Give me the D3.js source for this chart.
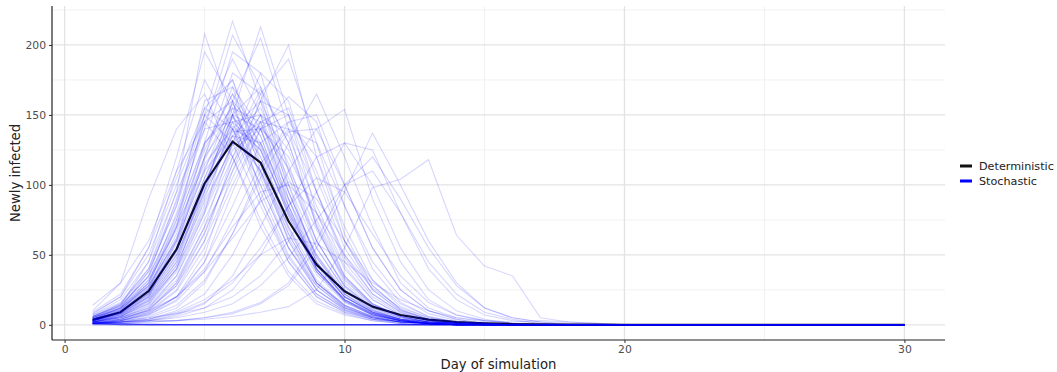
<!DOCTYPE html>
<html>
<head>
<meta charset="utf-8">
<script src="https://cdn.jsdelivr.net/npm/d3@7"></script>
<style>
  body { margin: 0; background: #fff; }
  text { font-family: "DejaVu Sans", sans-serif; }
  .tick text { fill: #4d4d4d; font-size: 10.8px; }
  .axis-title { fill: #222; font-size: 13.2px; }
  .legend-label { fill: #222; font-size: 11.2px; }
</style>
</head>
<body>
<div id="wrapper"></div>
<script>
// day of simulation
const days = d3.range(1, 31)

// deterministic model, newly infected per day
const deterministic = [3.5, 9, 24, 54, 101, 131, 116, 74, 43, 24, 13, 7, 3.7, 2, 1.1, 0.6, 0.3, 0.15, 0.08, 0.04, 0.02, 0.01, 0, 0, 0, 0, 0, 0, 0, 0]

// stochastic runs, newly infected per day
const stochastic = [
  [6, 15, 40, 95, 208, 150, 90, 45, 20, 9, 4, 2, 1, 0, 0, 0, 0, 0, 0, 0, 0, 0, 0, 0, 0, 0, 0, 0, 0, 0],
  [8, 20, 55, 120, 195, 160, 95, 50, 22, 10, 5, 2, 1, 0, 0, 0, 0, 0, 0, 0, 0, 0, 0, 0, 0, 0, 0, 0, 0, 0],
  [5, 14, 45, 110, 175, 140, 100, 55, 28, 12, 6, 3, 1, 0, 0, 0, 0, 0, 0, 0, 0, 0, 0, 0, 0, 0, 0, 0, 0, 0],
  [10, 30, 90, 140, 165, 120, 70, 35, 15, 7, 3, 1, 0, 0, 0, 0, 0, 0, 0, 0, 0, 0, 0, 0, 0, 0, 0, 0, 0, 0],
  [4, 12, 38, 85, 160, 170, 110, 60, 25, 12, 5, 2, 1, 0, 0, 0, 0, 0, 0, 0, 0, 0, 0, 0, 0, 0, 0, 0, 0, 0],
  [3, 9, 25, 70, 150, 217, 160, 90, 40, 18, 8, 3, 1, 0, 0, 0, 0, 0, 0, 0, 0, 0, 0, 0, 0, 0, 0, 0, 0, 0],
  [4, 10, 30, 80, 140, 207, 170, 100, 45, 20, 9, 4, 2, 1, 0, 0, 0, 0, 0, 0, 0, 0, 0, 0, 0, 0, 0, 0, 0, 0],
  [2, 7, 20, 60, 130, 195, 180, 110, 55, 25, 10, 4, 2, 1, 0, 0, 0, 0, 0, 0, 0, 0, 0, 0, 0, 0, 0, 0, 0, 0],
  [5, 12, 28, 75, 145, 190, 150, 85, 40, 17, 7, 3, 1, 0, 0, 0, 0, 0, 0, 0, 0, 0, 0, 0, 0, 0, 0, 0, 0, 0],
  [3, 8, 22, 55, 120, 180, 165, 95, 48, 22, 9, 4, 1, 0, 0, 0, 0, 0, 0, 0, 0, 0, 0, 0, 0, 0, 0, 0, 0, 0],
  [6, 13, 35, 90, 155, 175, 125, 70, 30, 14, 6, 2, 1, 0, 0, 0, 0, 0, 0, 0, 0, 0, 0, 0, 0, 0, 0, 0, 0, 0],
  [2, 5, 12, 35, 80, 150, 213, 150, 80, 35, 15, 6, 2, 1, 0, 0, 0, 0, 0, 0, 0, 0, 0, 0, 0, 0, 0, 0, 0, 0],
  [3, 6, 15, 40, 95, 160, 205, 140, 70, 30, 13, 5, 2, 1, 0, 0, 0, 0, 0, 0, 0, 0, 0, 0, 0, 0, 0, 0, 0, 0],
  [1, 4, 10, 30, 70, 130, 180, 160, 95, 45, 20, 8, 3, 1, 0, 0, 0, 0, 0, 0, 0, 0, 0, 0, 0, 0, 0, 0, 0, 0],
  [2, 6, 18, 45, 100, 150, 170, 130, 70, 32, 14, 6, 2, 1, 0, 0, 0, 0, 0, 0, 0, 0, 0, 0, 0, 0, 0, 0, 0, 0],
  [1, 3, 8, 20, 50, 110, 160, 200, 120, 60, 25, 10, 4, 1, 0, 0, 0, 0, 0, 0, 0, 0, 0, 0, 0, 0, 0, 0, 0, 0],
  [2, 4, 10, 25, 60, 120, 165, 190, 130, 65, 28, 11, 4, 2, 1, 0, 0, 0, 0, 0, 0, 0, 0, 0, 0, 0, 0, 0, 0, 0],
  [1, 3, 7, 18, 45, 95, 140, 163, 145, 85, 40, 16, 6, 2, 1, 0, 0, 0, 0, 0, 0, 0, 0, 0, 0, 0, 0, 0, 0, 0],
  [1, 2, 5, 12, 30, 65, 110, 145, 150, 100, 55, 25, 10, 4, 1, 0, 0, 0, 0, 0, 0, 0, 0, 0, 0, 0, 0, 0, 0, 0],
  [0, 2, 4, 10, 22, 50, 90, 130, 165, 120, 70, 30, 12, 5, 2, 0, 0, 0, 0, 0, 0, 0, 0, 0, 0, 0, 0, 0, 0, 0],
  [1, 2, 3, 7, 15, 35, 70, 110, 140, 154, 90, 45, 18, 7, 3, 1, 0, 0, 0, 0, 0, 0, 0, 0, 0, 0, 0, 0, 0, 0],
  [1, 1, 3, 6, 12, 25, 50, 85, 120, 130, 100, 55, 25, 10, 4, 1, 0, 0, 0, 0, 0, 0, 0, 0, 0, 0, 0, 0, 0, 0],
  [1, 1, 2, 3, 5, 8, 15, 28, 55, 95, 137, 100, 60, 30, 12, 5, 2, 1, 0, 0, 0, 0, 0, 0, 0, 0, 0, 0, 0, 0],
  [2, 2, 3, 3, 4, 6, 9, 13, 25, 55, 98, 104, 118, 64, 42, 35, 5, 2, 1, 0, 0, 0, 0, 0, 0, 0, 0, 0, 0, 0],
  [1, 2, 2, 3, 5, 9, 16, 30, 60, 100, 120, 90, 55, 28, 12, 5, 2, 0, 0, 0, 0, 0, 0, 0, 0, 0, 0, 0, 0, 0],
  [4, 11, 28, 65, 120, 150, 120, 75, 38, 18, 8, 3, 1, 0, 0, 0, 0, 0, 0, 0, 0, 0, 0, 0, 0, 0, 0, 0, 0, 0],
  [3, 9, 22, 50, 95, 135, 130, 90, 50, 24, 10, 4, 2, 1, 0, 0, 0, 0, 0, 0, 0, 0, 0, 0, 0, 0, 0, 0, 0, 0],
  [5, 12, 30, 70, 115, 140, 110, 65, 30, 14, 6, 2, 1, 0, 0, 0, 0, 0, 0, 0, 0, 0, 0, 0, 0, 0, 0, 0, 0, 0],
  [2, 6, 16, 40, 85, 130, 145, 105, 60, 28, 12, 5, 2, 1, 0, 0, 0, 0, 0, 0, 0, 0, 0, 0, 0, 0, 0, 0, 0, 0],
  [6, 14, 35, 75, 130, 155, 115, 65, 30, 13, 5, 2, 1, 0, 0, 0, 0, 0, 0, 0, 0, 0, 0, 0, 0, 0, 0, 0, 0, 0],
  [3, 8, 20, 48, 100, 145, 150, 100, 55, 25, 11, 4, 2, 0, 0, 0, 0, 0, 0, 0, 0, 0, 0, 0, 0, 0, 0, 0, 0, 0],
  [2, 5, 14, 35, 75, 120, 150, 125, 75, 35, 15, 6, 2, 1, 0, 0, 0, 0, 0, 0, 0, 0, 0, 0, 0, 0, 0, 0, 0, 0],
  [7, 18, 45, 95, 140, 145, 100, 55, 25, 11, 5, 2, 1, 0, 0, 0, 0, 0, 0, 0, 0, 0, 0, 0, 0, 0, 0, 0, 0, 0],
  [4, 10, 25, 60, 110, 160, 135, 80, 40, 18, 7, 3, 1, 0, 0, 0, 0, 0, 0, 0, 0, 0, 0, 0, 0, 0, 0, 0, 0, 0],
  [3, 7, 18, 42, 90, 140, 160, 115, 60, 27, 11, 4, 2, 1, 0, 0, 0, 0, 0, 0, 0, 0, 0, 0, 0, 0, 0, 0, 0, 0],
  [5, 13, 32, 72, 125, 165, 120, 68, 32, 14, 6, 2, 1, 0, 0, 0, 0, 0, 0, 0, 0, 0, 0, 0, 0, 0, 0, 0, 0, 0],
  [2, 6, 15, 38, 80, 125, 140, 120, 80, 40, 18, 7, 3, 1, 0, 0, 0, 0, 0, 0, 0, 0, 0, 0, 0, 0, 0, 0, 0, 0],
  [1, 4, 11, 28, 65, 115, 150, 135, 85, 42, 18, 7, 3, 1, 0, 0, 0, 0, 0, 0, 0, 0, 0, 0, 0, 0, 0, 0, 0, 0],
  [8, 20, 50, 100, 150, 130, 85, 45, 20, 9, 4, 1, 0, 0, 0, 0, 0, 0, 0, 0, 0, 0, 0, 0, 0, 0, 0, 0, 0, 0],
  [3, 9, 24, 58, 105, 145, 125, 80, 42, 20, 8, 3, 1, 0, 0, 0, 0, 0, 0, 0, 0, 0, 0, 0, 0, 0, 0, 0, 0, 0],
  [4, 10, 26, 55, 100, 150, 140, 90, 45, 20, 9, 3, 1, 0, 0, 0, 0, 0, 0, 0, 0, 0, 0, 0, 0, 0, 0, 0, 0, 0],
  [2, 5, 13, 32, 70, 110, 145, 140, 95, 50, 22, 9, 3, 1, 0, 0, 0, 0, 0, 0, 0, 0, 0, 0, 0, 0, 0, 0, 0, 0],
  [6, 15, 38, 85, 145, 160, 105, 55, 25, 11, 4, 2, 1, 0, 0, 0, 0, 0, 0, 0, 0, 0, 0, 0, 0, 0, 0, 0, 0, 0],
  [3, 8, 21, 50, 98, 138, 140, 95, 50, 22, 10, 4, 1, 0, 0, 0, 0, 0, 0, 0, 0, 0, 0, 0, 0, 0, 0, 0, 0, 0],
  [1, 3, 9, 24, 55, 100, 140, 150, 110, 60, 28, 11, 4, 2, 1, 0, 0, 0, 0, 0, 0, 0, 0, 0, 0, 0, 0, 0, 0, 0],
  [5, 12, 32, 68, 120, 170, 140, 85, 40, 18, 8, 3, 1, 0, 0, 0, 0, 0, 0, 0, 0, 0, 0, 0, 0, 0, 0, 0, 0, 0],
  [4, 9, 22, 52, 105, 155, 145, 95, 48, 22, 9, 4, 1, 0, 0, 0, 0, 0, 0, 0, 0, 0, 0, 0, 0, 0, 0, 0, 0, 0],
  [2, 7, 19, 45, 92, 135, 155, 110, 60, 28, 12, 5, 2, 1, 0, 0, 0, 0, 0, 0, 0, 0, 0, 0, 0, 0, 0, 0, 0, 0],
  [7, 16, 40, 88, 150, 175, 115, 60, 28, 12, 5, 2, 1, 0, 0, 0, 0, 0, 0, 0, 0, 0, 0, 0, 0, 0, 0, 0, 0, 0],
  [3, 8, 20, 47, 96, 140, 130, 85, 45, 20, 9, 4, 1, 0, 0, 0, 0, 0, 0, 0, 0, 0, 0, 0, 0, 0, 0, 0, 0, 0],
  [1, 3, 8, 20, 45, 85, 130, 145, 120, 70, 32, 13, 5, 2, 1, 0, 0, 0, 0, 0, 0, 0, 0, 0, 0, 0, 0, 0, 0, 0],
  [5, 11, 27, 62, 112, 148, 128, 78, 38, 17, 7, 3, 1, 0, 0, 0, 0, 0, 0, 0, 0, 0, 0, 0, 0, 0, 0, 0, 0, 0],
  [2, 6, 17, 43, 88, 128, 142, 112, 68, 33, 14, 6, 2, 1, 0, 0, 0, 0, 0, 0, 0, 0, 0, 0, 0, 0, 0, 0, 0, 0],
  [9, 22, 55, 105, 155, 140, 90, 48, 22, 10, 4, 2, 1, 0, 0, 0, 0, 0, 0, 0, 0, 0, 0, 0, 0, 0, 0, 0, 0, 0],
  [3, 7, 17, 40, 82, 130, 168, 130, 72, 34, 15, 6, 2, 1, 0, 0, 0, 0, 0, 0, 0, 0, 0, 0, 0, 0, 0, 0, 0, 0],
  [4, 12, 30, 70, 128, 165, 135, 82, 40, 18, 8, 3, 1, 0, 0, 0, 0, 0, 0, 0, 0, 0, 0, 0, 0, 0, 0, 0, 0, 0],
  [2, 4, 11, 28, 60, 105, 145, 155, 105, 55, 25, 10, 4, 1, 0, 0, 0, 0, 0, 0, 0, 0, 0, 0, 0, 0, 0, 0, 0, 0],
  [6, 14, 34, 78, 130, 150, 108, 62, 30, 13, 5, 2, 1, 0, 0, 0, 0, 0, 0, 0, 0, 0, 0, 0, 0, 0, 0, 0, 0, 0],
  [1, 3, 7, 17, 38, 75, 115, 140, 130, 85, 45, 20, 8, 3, 1, 0, 0, 0, 0, 0, 0, 0, 0, 0, 0, 0, 0, 0, 0, 0],
  [3, 10, 26, 62, 118, 158, 130, 78, 38, 17, 7, 3, 1, 0, 0, 0, 0, 0, 0, 0, 0, 0, 0, 0, 0, 0, 0, 0, 0, 0],
  [14, 30, 60, 110, 145, 120, 75, 38, 17, 8, 3, 1, 0, 0, 0, 0, 0, 0, 0, 0, 0, 0, 0, 0, 0, 0, 0, 0, 0, 0],
  [2, 5, 12, 30, 66, 115, 160, 150, 95, 48, 22, 9, 3, 1, 0, 0, 0, 0, 0, 0, 0, 0, 0, 0, 0, 0, 0, 0, 0, 0],
  [4, 9, 23, 53, 102, 142, 125, 82, 43, 20, 9, 3, 1, 0, 0, 0, 0, 0, 0, 0, 0, 0, 0, 0, 0, 0, 0, 0, 0, 0],
  [1, 2, 6, 14, 32, 65, 105, 138, 140, 100, 55, 25, 10, 4, 1, 0, 0, 0, 0, 0, 0, 0, 0, 0, 0, 0, 0, 0, 0, 0],
  [5, 11, 28, 60, 110, 135, 110, 70, 36, 16, 7, 3, 1, 0, 0, 0, 0, 0, 0, 0, 0, 0, 0, 0, 0, 0, 0, 0, 0, 0],
  [2, 4, 9, 20, 40, 70, 95, 100, 80, 50, 26, 12, 5, 2, 1, 0, 0, 0, 0, 0, 0, 0, 0, 0, 0, 0, 0, 0, 0, 0],
  [1, 2, 4, 8, 16, 30, 55, 85, 105, 95, 65, 35, 16, 7, 3, 1, 0, 0, 0, 0, 0, 0, 0, 0, 0, 0, 0, 0, 0, 0],
  [3, 5, 10, 20, 38, 62, 88, 102, 90, 60, 32, 15, 6, 2, 1, 0, 0, 0, 0, 0, 0, 0, 0, 0, 0, 0, 0, 0, 0, 0],
  [1, 2, 3, 5, 9, 15, 28, 48, 75, 100, 110, 80, 45, 22, 9, 4, 1, 0, 0, 0, 0, 0, 0, 0, 0, 0, 0, 0, 0, 0],
  [2, 3, 5, 8, 12, 20, 35, 60, 95, 130, 125, 80, 40, 18, 7, 3, 1, 0, 0, 0, 0, 0, 0, 0, 0, 0, 0, 0, 0, 0],
  [1, 2, 4, 9, 18, 32, 50, 62, 58, 45, 30, 18, 10, 5, 3, 2, 3, 2, 1, 0, 0, 0, 0, 0, 0, 0, 0, 0, 0, 0],
  [1, 0, 0, 0, 0, 0, 0, 0, 0, 0, 0, 0, 0, 0, 0, 0, 0, 0, 0, 0, 0, 0, 0, 0, 0, 0, 0, 0, 0, 0],
  [1, 1, 0, 0, 0, 0, 0, 0, 0, 0, 0, 0, 0, 0, 0, 0, 0, 0, 0, 0, 0, 0, 0, 0, 0, 0, 0, 0, 0, 0],
  [2, 1, 0, 0, 0, 0, 0, 0, 0, 0, 0, 0, 0, 0, 0, 0, 0, 0, 0, 0, 0, 0, 0, 0, 0, 0, 0, 0, 0, 0],
  [1, 0, 0, 0, 0, 0, 0, 0, 0, 0, 0, 0, 0, 0, 0, 0, 0, 0, 0, 0, 0, 0, 0, 0, 0, 0, 0, 0, 0, 0],
  [0, 0, 0, 0, 0, 0, 0, 0, 0, 0, 0, 0, 0, 0, 0, 0, 0, 0, 0, 0, 0, 0, 0, 0, 0, 0, 0, 0, 0, 0],
  [1, 1, 1, 0, 0, 0, 0, 0, 0, 0, 0, 0, 0, 0, 0, 0, 0, 0, 0, 0, 0, 0, 0, 0, 0, 0, 0, 0, 0, 0],
  [1, 0, 0, 0, 0, 0, 0, 0, 0, 0, 0, 0, 0, 0, 0, 0, 0, 0, 0, 0, 0, 0, 0, 0, 0, 0, 0, 0, 0, 0],
  [0, 0, 0, 0, 0, 0, 0, 0, 0, 0, 0, 0, 0, 0, 0, 0, 0, 0, 0, 0, 0, 0, 0, 0, 0, 0, 0, 0, 0, 0],
  [2, 0, 0, 0, 0, 0, 0, 0, 0, 0, 0, 0, 0, 0, 0, 0, 0, 0, 0, 0, 0, 0, 0, 0, 0, 0, 0, 0, 0, 0],
  [1, 1, 0, 0, 0, 0, 0, 0, 0, 0, 0, 0, 0, 0, 0, 0, 0, 0, 0, 0, 0, 0, 0, 0, 0, 0, 0, 0, 0, 0],
  [0, 0, 0, 0, 0, 0, 0, 0, 0, 0, 0, 0, 0, 0, 0, 0, 0, 0, 0, 0, 0, 0, 0, 0, 0, 0, 0, 0, 0, 0],
  [1, 0, 0, 0, 0, 0, 0, 0, 0, 0, 0, 0, 0, 0, 0, 0, 0, 0, 0, 0, 0, 0, 0, 0, 0, 0, 0, 0, 0, 0],
]

const xTicks = [0, 10, 20, 30]
const xMinorTicks = [5, 15, 25]
const yTicks = [0, 50, 100, 150, 200]
const yMinorTicks = [25, 75, 125, 175, 225]
const legendItems = ["Deterministic", "Stochastic"]
const legendColors = ["#111111", "#0000ff"]

function drawChart() {
  const dimensions = {
    width: 1057,
    height: 372,
    margin: { top: 6, right: 112, bottom: 32, left: 52 },
  }
  dimensions.boundedWidth = dimensions.width - dimensions.margin.left - dimensions.margin.right
  dimensions.boundedHeight = dimensions.height - dimensions.margin.top - dimensions.margin.bottom

  const wrapper = d3.select("#wrapper")
    .append("svg")
      .attr("width", dimensions.width)
      .attr("height", dimensions.height)

  const bounds = wrapper.append("g")
    .attr("transform", `translate(${dimensions.margin.left}, ${dimensions.margin.top})`)

  // scales, with ggplot style 5% expansion
  const xExtent = d3.extent(days)
  const xPad = (xExtent[1] - xExtent[0]) * 0.05
  const xScale = d3.scaleLinear()
    .domain([xExtent[0] - xPad, xExtent[1] + xPad])
    .range([0, dimensions.boundedWidth])

  const yMax = d3.max([d3.max(stochastic, d => d3.max(d)), d3.max(deterministic)])
  const yPad = yMax * 0.05
  const yScale = d3.scaleLinear()
    .domain([-yPad, yMax + yPad])
    .range([dimensions.boundedHeight, 0])

  // grid
  const grid = bounds.append("g")
  grid.selectAll(".y-minor")
    .data(yMinorTicks.filter(d => d < yScale.domain()[1]))
    .enter().append("line")
      .attr("x1", 0).attr("x2", dimensions.boundedWidth)
      .attr("y1", d => yScale(d)).attr("y2", d => yScale(d))
      .attr("stroke", "#f2f2f2").attr("stroke-width", 1)
  grid.selectAll(".x-minor")
    .data(xMinorTicks)
    .enter().append("line")
      .attr("y1", 0).attr("y2", dimensions.boundedHeight)
      .attr("x1", d => xScale(d)).attr("x2", d => xScale(d))
      .attr("stroke", "#f2f2f2").attr("stroke-width", 1)
  grid.selectAll(".y-major")
    .data(yTicks)
    .enter().append("line")
      .attr("x1", 0).attr("x2", dimensions.boundedWidth)
      .attr("y1", d => yScale(d)).attr("y2", d => yScale(d))
      .attr("stroke", "#e3e3e3").attr("stroke-width", 1.3)
  grid.selectAll(".x-major")
    .data(xTicks)
    .enter().append("line")
      .attr("y1", 0).attr("y2", dimensions.boundedHeight)
      .attr("x1", d => xScale(d)).attr("x2", d => xScale(d))
      .attr("stroke", "#e3e3e3").attr("stroke-width", 1.3)

  // lines: deterministic first, stochastic runs drawn over it
  const lineGenerator = d3.line()
    .x((d, i) => xScale(days[i]))
    .y(d => yScale(d))

  bounds.append("path")
    .attr("d", lineGenerator(deterministic))
    .attr("fill", "none")
    .attr("stroke", "#111111")
    .attr("stroke-width", 2.2)
    .attr("stroke-linejoin", "round")

  bounds.append("g")
    .selectAll("path")
    .data(stochastic)
    .enter().append("path")
      .attr("d", lineGenerator)
      .attr("fill", "none")
      .attr("stroke", "#0000ff")
      .attr("stroke-opacity", 0.16)
      .attr("stroke-width", 1.1)

  // axes
  const xAxis = bounds.append("g")
    .attr("transform", `translate(0, ${dimensions.boundedHeight})`)
    .call(d3.axisBottom(xScale).tickValues(xTicks).tickSize(3).tickPadding(2))
  const yAxis = bounds.append("g")
    .call(d3.axisLeft(yScale).tickValues(yTicks).tickSize(3).tickPadding(3))
  ;[xAxis, yAxis].forEach(a => {
    a.select(".domain").remove()
    a.selectAll(".tick line").attr("stroke", "#333")
    a.selectAll(".tick text").style("font-family", "DejaVu Sans, sans-serif")
  })

  bounds.append("line")
    .attr("x1", 0).attr("x2", 0)
    .attr("y1", 0).attr("y2", dimensions.boundedHeight)
    .attr("stroke", "#222").attr("stroke-width", 1.2)
  bounds.append("line")
    .attr("x1", 0).attr("x2", dimensions.boundedWidth)
    .attr("y1", dimensions.boundedHeight).attr("y2", dimensions.boundedHeight)
    .attr("stroke", "#222").attr("stroke-width", 1.2)

  // axis titles
  wrapper.append("text")
    .attr("class", "axis-title")
    .attr("x", dimensions.margin.left + dimensions.boundedWidth / 2)
    .attr("y", dimensions.height - 3)
    .attr("text-anchor", "middle")
    .text("Day of simulation")

  wrapper.append("text")
    .attr("class", "axis-title")
    .attr("transform", `translate(20, ${dimensions.margin.top + dimensions.boundedHeight / 2}) rotate(-90)`)
    .attr("text-anchor", "middle")
    .text("Newly infected")

  // legend
  const legend = wrapper.append("g")
    .attr("transform", "translate(959, 166)")
  const items = legend.selectAll("g")
    .data(legendItems)
    .enter().append("g")
      .attr("transform", (d, i) => `translate(0, ${i * 15})`)
  items.append("line")
    .attr("x1", 1).attr("x2", 13)
    .attr("stroke", (d, i) => legendColors[i])
    .attr("stroke-width", 3)
  items.append("text")
    .attr("class", "legend-label")
    .attr("x", 20)
    .attr("dy", "0.35em")
    .text(d => d)
}
drawChart()
</script>
</body>
</html>
